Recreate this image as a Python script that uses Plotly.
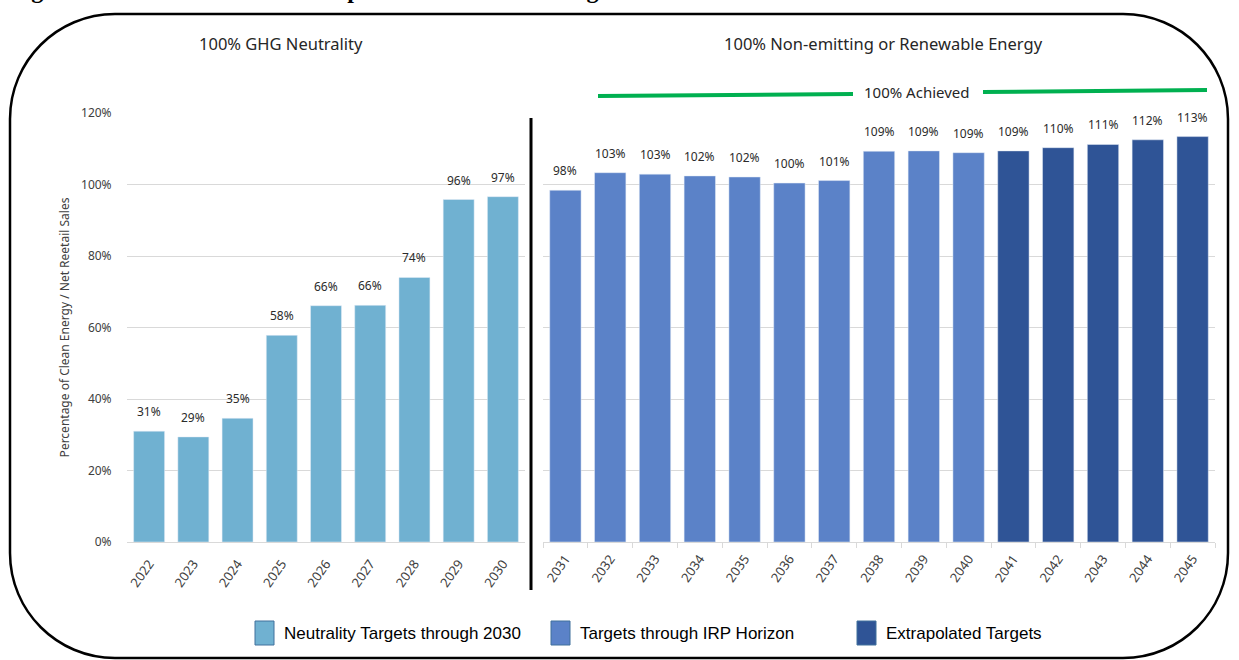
import plotly.graph_objects as go

# ---- data -------------------------------------------------------------
neutrality_years = ["2022", "2023", "2024", "2025", "2026", "2027", "2028", "2029", "2030"]
neutrality_pct = [31.0, 29.4, 34.6, 57.8, 66.1, 66.2, 74.0, 95.8, 96.6]

irp_years = ["2031", "2032", "2033", "2034", "2035", "2036", "2037", "2038", "2039", "2040"]
irp_pct = [98.4, 103.3, 102.9, 102.4, 102.1, 100.4, 101.1, 109.3, 109.4, 108.9]

extrap_years = ["2041", "2042", "2043", "2044", "2045"]
extrap_pct = [109.4, 110.3, 111.2, 112.5, 113.4]

y_ticks = [0, 20, 40, 60, 80, 100, 120]

legend_names = ["Neutrality Targets through 2030", "Targets through IRP Horizon", "Extrapolated Targets"]

# ---- style ------------------------------------------------------------
W, H = 1239, 660
c_neutral = "#70B1D1"
c_irp = "#5B82C8"
c_extrap = "#2F5496"
grid = "#d9d9d9"
txt = "#404040"
font_main = "Noto Sans, sans-serif"


def px(x):
    return x / W


def py(y):
    return 1 - y / H


right_years = irp_years + extrap_years

fig = go.Figure()

fig.add_trace(go.Bar(x=neutrality_years, y=neutrality_pct, name=legend_names[0],
                     marker_color=c_neutral, xaxis="x", yaxis="y", showlegend=False))
fig.add_trace(go.Bar(x=irp_years, y=irp_pct, name=legend_names[1],
                     marker_color=c_irp, xaxis="x2", yaxis="y2", showlegend=False))
fig.add_trace(go.Bar(x=extrap_years, y=extrap_pct, name=legend_names[2],
                     marker_color=c_extrap, xaxis="x2", yaxis="y2", showlegend=False))

# value labels above bars (category axes take the serial index)
annotations = []
for cats, xs, ys, xr, yr in [(neutrality_years, neutrality_years, neutrality_pct, "x", "y"),
                             (right_years, irp_years, irp_pct, "x2", "y2"),
                             (right_years, extrap_years, extrap_pct, "x2", "y2")]:
    for xv, yv in zip(xs, ys):
        annotations.append(dict(x=cats.index(xv), y=yv, xref=xr, yref=yr, text=f"{yv:.0f}%",
                                showarrow=False, xanchor="center", yanchor="bottom", yshift=9,
                                font=dict(size=12, color="#2b2b2b", family=font_main)))


def paper_text(x, y, text, size, color="#262626", family=font_main, xanchor="center"):
    return dict(x=px(x), y=py(y), xref="paper", yref="paper", text=text, showarrow=False,
                xanchor=xanchor, yanchor="middle", font=dict(size=size, color=color, family=family))


# panel titles
annotations.append(paper_text(281, 43, "100% GHG Neutrality", 16.5))
annotations.append(paper_text(883, 43, "100% Non-emitting or Renewable Energy", 16.5))
annotations.append(paper_text(917, 92, "100% Achieved", 15))

# cropped figure caption at the very top
for label, xpos in [("Figure 3:", 8), ("Updated", 328), ("Targets", 548)]:
    annotations.append(dict(x=px(xpos), y=py(5), xref="paper", yref="paper", text=f"<b>{label}</b>",
                            showarrow=False, xanchor="left", yanchor="bottom",
                            font=dict(size=24, color="black", family="Liberation Serif, serif")))

# legend (drawn by hand to match the large swatches)
legend_x = [255, 551, 857]
legend_colors = [c_neutral, c_irp, c_extrap]
shapes = []
for name, x0, col in zip(legend_names, legend_x, legend_colors):
    shapes.append(dict(type="rect", xref="paper", yref="paper",
                       x0=px(x0), x1=px(x0 + 19), y0=py(645), y1=py(621),
                       fillcolor=col, line=dict(color="#41719C", width=1)))
    annotations.append(paper_text(x0 + 27, 633, name, 17, color="black",
                                  family="Liberation Sans, Arial, sans-serif", xanchor="left"))

# divider between panels
shapes.append(dict(type="line", xref="paper", yref="paper", x0=px(531), x1=px(531),
                   y0=py(118), y1=py(590), line=dict(color="black", width=3)))

# green "100% achieved" bracket
shapes.append(dict(type="line", xref="paper", yref="paper", x0=px(598), x1=px(853),
                   y0=py(96), y1=py(94), line=dict(color="#00B050", width=4)))
shapes.append(dict(type="line", xref="paper", yref="paper", x0=px(983), x1=px(1207),
                   y0=py(92), y1=py(90), line=dict(color="#00B050", width=4)))

# rounded outer frame (circular corners via cubic curves)
L, R, T, B, r = 10, 1228, 14, 658, 105
k = 0.5523 * r
frame = (f"M {px(L + r)},{py(T)} L {px(R - r)},{py(T)} "
         f"C {px(R - r + k)},{py(T)} {px(R)},{py(T + r - k)} {px(R)},{py(T + r)} "
         f"L {px(R)},{py(B - r)} "
         f"C {px(R)},{py(B - r + k)} {px(R - r + k)},{py(B)} {px(R - r)},{py(B)} "
         f"L {px(L + r)},{py(B)} "
         f"C {px(L + r - k)},{py(B)} {px(L)},{py(B - r + k)} {px(L)},{py(B - r)} "
         f"L {px(L)},{py(T + r)} "
         f"C {px(L)},{py(T + r - k)} {px(L + r - k)},{py(T)} {px(L + r)},{py(T)} Z")
shapes.append(dict(type="path", xref="paper", yref="paper", path=frame,
                   line=dict(color="black", width=2.5)))

y_dom = [py(542), py(113)]
axis_font = dict(size=13, color=txt, family=font_main)

fig.update_layout(
    width=W, height=H,
    margin=dict(l=0, r=0, t=0, b=0, autoexpand=False),
    paper_bgcolor="white", plot_bgcolor="white",
    bargap=0.3,
    font=dict(family=font_main, color=txt),
    xaxis=dict(domain=[px(127), px(525)], type="category", tickangle=-55,
               categoryorder="array", categoryarray=neutrality_years,
               range=[-0.5, len(neutrality_years) - 0.5],
               tickfont=axis_font, showline=True, linecolor=grid, ticks="",
               ticklabelstandoff=8, showgrid=False, automargin=False),
    xaxis2=dict(domain=[px(543), px(1215)], type="category", tickangle=-55,
                categoryorder="array", categoryarray=right_years,
                range=[-0.5, len(right_years) - 0.5],
                tickfont=axis_font, showline=True, linecolor=grid,
                ticks="outside", tickson="boundaries", ticklen=5, tickcolor=grid,
                ticklabelstandoff=3, showgrid=False, anchor="y2", automargin=False),
    yaxis=dict(domain=y_dom, range=[0, 120], tickvals=y_ticks,
               ticktext=[f"{v}%" for v in y_ticks],
               tickfont=dict(size=12, color=txt, family=font_main), gridcolor=grid, zeroline=False,
               ticks="outside", ticklen=12, tickcolor="rgba(0,0,0,0)", automargin=False,
               title=dict(text="Percentage of Clean Energy / Net Reetail Sales",
                          font=dict(size=12, color=txt, family=font_main), standoff=8)),
    yaxis2=dict(domain=y_dom, range=[0, 120], tickvals=y_ticks, showticklabels=False,
                gridcolor=grid, zeroline=False, anchor="x2", matches="y", automargin=False),
    shapes=shapes,
    annotations=annotations,
)

# drop the browser's default page margin so the figure sits at the window's corner
fig.write_html("out.html", config={"displayModeBar": False},
               post_script="document.body.style.margin = '0';")
